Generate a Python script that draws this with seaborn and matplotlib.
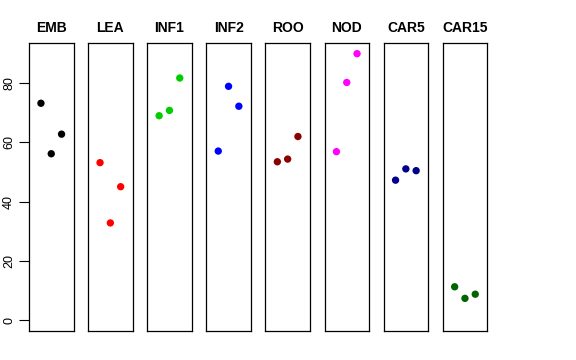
import matplotlib
matplotlib.use("Agg")
import matplotlib.pyplot as plt
import seaborn as sns
import pandas as pd

groups = ["EMB", "LEA", "INF1", "INF2", "ROO", "NOD", "CAR5", "CAR15"]
colors = ["#000000", "#FF0000", "#00CD00", "#0000FF", "#8B0000", "#FF00FF", "#00008B", "#006400"]
rep = [1, 2, 3]
values = {
    "EMB":   [73.1, 56.1, 62.7],
    "LEA":   [53.1, 32.8, 45.0],
    "INF1":  [68.9, 70.7, 81.6],
    "INF2":  [57.0, 78.8, 72.1],
    "ROO":   [53.4, 54.3, 61.9],
    "NOD":   [56.8, 80.1, 89.8],
    "CAR5":  [47.2, 51.0, 50.4],
    "CAR15": [11.3, 7.4, 8.8],
}
yticks = [0, 20, 40, 60, 80]

rows = []
for g in groups:
    for r, v in zip(rep, values[g]):
        rows.append({"group": g, "rep": r, "value": v})
df = pd.DataFrame(rows)

sns.set_style("white")
plt.rcParams["font.family"] = ["Liberation Sans", "DejaVu Sans"]
plt.rcParams["text.color"] = "black"
plt.rcParams["axes.labelcolor"] = "black"
plt.rcParams["xtick.color"] = "black"
plt.rcParams["ytick.color"] = "black"

fig = plt.figure(figsize=(5.76, 3.6), dpi=100)
ymax = df["value"].max()
ypad = ymax * 0.04
W, H = 576, 360
lefts = [29 + i * 59.1 for i in range(8)]
for i, (g, c) in enumerate(zip(groups, colors)):
    ax = fig.add_axes([lefts[i] / W, 29 / H, 44.5 / W, 288 / H])
    sub = df[df["group"] == g]
    sns.scatterplot(data=sub, x="rep", y="value", color=c, s=28, edgecolor="none", ax=ax, legend=False)
    ax.set_xlim(-0.16, 4.16)
    ax.set_ylim(-ypad, ymax + ypad)
    ax.set_xticks([])
    ax.set_xlabel("")
    ax.set_ylabel("")
    for sp in ax.spines.values():
        sp.set_visible(True)
        sp.set_color("black")
        sp.set_linewidth(0.9)
    ax.set_title(g, fontsize=10, fontweight="bold", pad=8, color="black")
    if i == 0:
        ax.set_yticks(yticks)
        ax.set_yticklabels([str(t) for t in yticks], rotation=90, va="center", fontsize=9, color="black")
        ax.tick_params(axis="y", left=True, length=7, width=0.8, pad=3, direction="out", colors="black")
    else:
        ax.set_yticks([])

fig.savefig("out.png", dpi=100, facecolor="white")
